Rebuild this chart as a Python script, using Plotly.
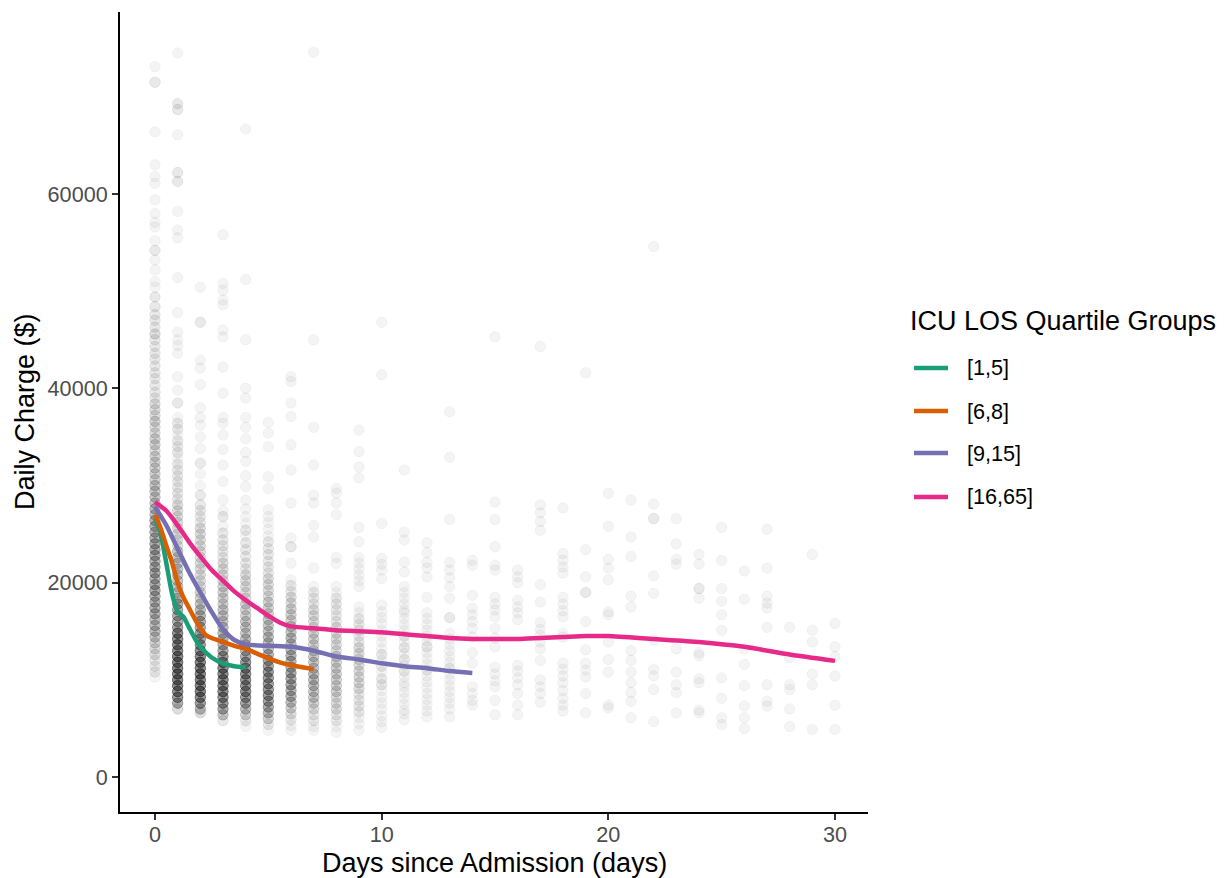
import plotly.graph_objects as go

# ---------------- data (charges in thousands of $) ----------------
# scatter: per-day observed daily charges and multiplicities (overlapping points)
d00_y = [73.1, 71.5, 66.4, 63.0, 61.8, 61.1, 59.4, 58.0, 57.1, 56.6, 55.2, 54.2, 53.2, 52.2, 51.0, 50.4, 49.4, 48.4,
         47.6, 47.0, 46.3, 45.6, 45.0, 44.3, 43.6, 43.0, 42.3, 41.6, 41.0, 40.3, 39.6, 39.0,
         38.4, 37.8, 37.2, 36.6, 36.0, 35.4, 34.8, 34.2, 33.6, 33.0, 32.4, 31.8, 31.2, 30.6, 30.0, 29.4, 28.8, 28.2,
         27.6, 27.0, 26.4, 25.8, 25.2, 24.6, 24.0, 23.4, 22.8, 22.2, 21.6, 21.0, 20.4, 19.8, 19.2, 18.6, 18.0, 17.4, 16.8, 16.2, 15.6, 15.0, 14.4,
         13.8, 13.2, 12.6, 12.0, 11.4, 10.8, 10.3]
d00_n = [1, 2, 1, 1, 1, 1, 1, 1, 1, 1, 1, 2, 1, 1, 1, 1, 2, 2,
         2, 2, 2, 3, 2, 2, 2, 2, 2, 2, 2, 2, 2, 2,
         3, 3, 3, 4, 3, 3, 4, 4, 3, 4, 4, 4, 4, 4, 5, 5, 5, 5,
         6, 6, 7, 7, 7, 7, 8, 8, 8, 7, 8, 8, 7, 8, 8, 7, 7, 7, 7, 6, 6, 6, 5,
         4, 3, 3, 2, 2, 2, 1]

d01_y = [74.5, 69.3, 68.7, 66.1, 62.2, 61.3, 58.2, 56.3, 55.5, 51.4, 47.8, 45.8, 45.0, 44.4, 43.6, 41.2, 39.8, 38.5, 37.0,
         36.4, 35.8, 35.2, 34.6, 34.0, 33.4, 32.8, 32.2, 31.6, 31.0, 30.4, 29.8, 29.2, 28.6,
         28.0, 27.4, 26.8, 26.2, 25.6, 25.0, 24.4, 23.8, 23.2, 22.6, 22.0, 21.4, 20.8, 20.2, 19.6, 19.0, 18.4,
         17.8, 17.2, 16.6, 16.0, 15.4, 14.8, 14.2, 13.6, 13.0, 12.4, 11.8, 11.2, 10.6, 10.0, 9.4, 8.8, 8.2, 7.6, 7.0]
d01_n = [1, 2, 2, 1, 2, 2, 1, 1, 1, 1, 1, 1, 1, 1, 1, 1, 1, 2, 1,
         2, 2, 1, 2, 2, 2, 1, 2, 2, 2, 2, 2, 2, 2,
         3, 3, 3, 3, 3, 3, 3, 3, 5, 5, 5, 5, 5, 5, 5, 5, 6,
         8, 8, 8, 8, 9, 12, 12, 12, 12, 13, 13, 13, 13, 13, 13, 12, 11, 8, 3]

d02_y = [50.4, 46.8, 42.9, 42.1, 40.4, 38.0, 37.0, 36.2, 35.0, 33.8, 32.3, 31.2, 30.0, 29.0,
         28.0, 27.4, 26.8, 26.2, 25.6, 25.0, 24.4, 23.8, 23.2, 22.6, 22.0, 21.4, 20.8, 20.2, 19.6, 19.0, 18.4,
         17.8, 17.2, 16.6, 16.0, 15.4, 14.8, 14.2, 13.6, 13.0, 12.4, 11.8, 11.2, 10.6, 10.0, 9.4, 8.8, 8.2, 7.6, 7.0, 6.6]
d02_n = [1, 2, 1, 1, 1, 1, 1, 1, 1, 1, 2, 1, 1, 2,
         2, 2, 2, 2, 3, 3, 3, 3, 3, 3, 3, 3, 3, 3, 3, 4, 4,
         5, 6, 7, 8, 8, 9, 9, 10, 11, 12, 13, 13, 13, 13, 13, 13, 12, 10, 6, 3]

d03_y = [55.8, 50.8, 50.1, 49.1, 48.6, 46.0, 45.3, 42.2, 39.5, 37.0,
         36.4, 35.2, 33.7, 32.1, 30.4, 28.5, 27.4, 26.8, 25.8, 25.1, 24.4, 23.8, 23.2, 22.6,
         22.0, 21.4, 20.8, 20.2, 19.6, 19.0, 18.4, 17.8, 17.2, 16.6, 16.0, 15.4, 14.8, 14.2, 13.6, 13.0,
         12.4, 11.8, 11.2, 10.6, 10.0, 9.4, 8.8, 8.2, 7.6, 7.0, 6.4, 5.8]
d03_n = [1, 1, 1, 1, 1, 1, 1, 1, 1, 1,
         1, 1, 1, 1, 1, 1, 1, 2, 1, 2, 2, 2, 2, 2,
         3, 3, 3, 3, 4, 4, 4, 4, 5, 5, 5, 6, 6, 7, 7, 8,
         10, 11, 12, 12, 12, 12, 12, 11, 10, 8, 5, 2]

d04_y = [66.7, 51.2, 45.0, 40.0, 39.0, 37.0, 36.0, 34.8, 33.4, 32.5, 31.0, 29.9, 28.5, 27.6,
         26.8, 26.1, 25.4, 24.8, 24.1, 23.4, 22.7, 22.0, 21.4, 20.8, 20.2, 19.6, 19.0, 18.4,
         17.8, 17.2, 16.6, 16.0, 15.4, 14.8, 14.2, 13.6, 13.0, 12.4, 11.8, 11.2, 10.6, 10.0, 9.4, 8.8, 8.2, 7.6, 7.0, 6.4, 5.8, 5.2]
d04_n = [1, 1, 1, 1, 1, 1, 1, 1, 1, 1, 1, 1, 1, 1,
         1, 1, 2, 1, 2, 2, 2, 2, 2, 3, 3, 3, 3, 3,
         4, 4, 4, 5, 5, 5, 6, 6, 7, 8, 10, 11, 11, 11, 11, 11, 10, 9, 6, 4, 2, 1]

d05_y = [36.5, 35.4, 34.0, 30.9, 29.7,
         27.5, 26.8, 26.2, 25.5, 24.8, 24.2, 23.5, 22.9, 22.2, 21.6, 21.0, 20.4, 19.8, 19.2, 18.6,
         18.0, 17.4, 16.8, 16.2, 15.6, 15.0, 14.4, 13.8, 13.2, 12.6, 12.0, 11.4, 10.8, 10.2, 9.6, 9.0, 8.4, 7.8, 7.2, 6.6, 6.0, 5.4, 4.8]
d05_n = [1, 1, 1, 1, 1,
         1, 1, 1, 1, 1, 2, 2, 2, 2, 2, 2, 3, 3, 3, 3,
         4, 4, 4, 5, 5, 5, 6, 6, 6, 7, 8, 9, 10, 10, 10, 10, 10, 9, 8, 6, 4, 2, 1]

d06_y = [41.2, 40.7, 38.5, 37.1, 34.2, 31.6, 28.2, 24.6, 23.7, 22.0,
         20.3, 19.7, 19.1, 18.5, 17.9, 17.3, 16.7, 16.1, 15.5, 14.9, 14.3, 13.7, 13.1,
         12.5, 11.9, 11.3, 10.7, 10.1, 9.5, 8.9, 8.3, 7.7, 7.1, 6.5, 5.9, 5.3, 4.8]
d06_n = [1, 1, 1, 1, 1, 1, 1, 1, 2, 1,
         1, 2, 2, 3, 3, 4, 4, 4, 5, 5, 6, 6, 6,
         7, 7, 7, 8, 8, 8, 7, 7, 6, 4, 3, 2, 1, 1]

d07_y = [74.6, 45.0, 36.0, 32.1, 29.0, 28.2, 25.9, 24.7, 21.5,
         19.6, 19.0, 18.4, 17.8, 17.2, 16.6, 16.0, 15.4, 14.8, 14.2, 13.6, 13.0,
         12.4, 11.8, 11.2, 10.6, 10.0, 9.4, 8.8, 8.2, 7.6, 7.0, 6.4, 5.8, 5.2, 4.8]
d07_n = [1, 1, 1, 1, 1, 1, 1, 1, 1,
         1, 2, 2, 2, 3, 3, 3, 3, 4, 4, 4, 4,
         5, 5, 5, 6, 6, 6, 5, 5, 4, 3, 2, 2, 1, 1]

d08_y = [29.7, 29.2, 28.2, 27.0, 22.6, 22.0,
         19.6, 19.0, 18.4, 17.8, 17.2, 16.6, 16.0, 15.4, 14.8, 14.2, 13.6, 13.0,
         12.4, 11.8, 11.2, 10.6, 10.0, 9.4, 8.8, 8.2, 7.6, 7.0, 6.4, 5.8, 5.2, 4.6]
d08_n = [1, 1, 1, 1, 1, 1,
         1, 1, 2, 2, 2, 2, 2, 3, 3, 3, 3, 3,
         4, 4, 4, 4, 4, 4, 4, 3, 3, 3, 2, 2, 1, 1]

d09_y = [35.7, 33.5, 31.9, 30.8, 25.7, 24.2, 22.6, 22.0, 21.4, 20.8, 20.2, 19.6,
         17.5, 16.9, 16.3, 15.7, 15.1, 14.5, 13.9, 13.3, 12.7, 12.1, 11.5, 10.9, 10.3, 9.7, 9.1, 8.5, 7.9, 7.3, 6.7, 6.1, 5.5, 4.8]
d09_n = [1, 1, 1, 1, 1, 1, 1, 1, 1, 1, 1, 1,
         1, 1, 2, 2, 2, 2, 2, 3, 3, 3, 3, 3, 3, 3, 3, 2, 2, 2, 2, 1, 1, 1]

d10_y = [46.8, 41.4, 26.1, 22.5, 21.9, 21.3, 20.4, 17.7, 17.0, 16.4, 15.8, 15.1, 14.5, 13.9, 13.2, 12.6, 12.6,
         12.0, 11.4, 11.4, 10.8, 10.1, 10.1, 9.5, 9.5, 8.9, 8.2, 7.6, 7.0, 6.3, 5.7, 5.1]
d11_y = [31.6, 25.2, 24.4, 22.1, 21.1, 19.6, 19.0, 18.4, 17.8, 17.2, 16.9, 16.3, 15.7, 15.1, 14.5, 14.5, 13.9,
         13.3, 13.3, 12.7, 12.1, 12.1, 11.5, 10.9, 10.9, 10.3, 9.7, 9.3, 8.7, 8.1, 7.5, 6.9, 6.5, 5.9]
d12_y = [24.1, 23.1, 22.1, 21.5, 20.6, 18.5, 16.9, 16.3, 15.7, 15.1, 14.5, 14.0, 13.4, 13.4, 12.8, 12.2,
         11.6, 11.0, 11.0, 10.4, 9.8, 9.2, 8.6, 8.0, 7.4, 6.8, 6.2]
d13_y = [37.6, 32.9, 26.5, 22.1, 21.3, 20.5, 19.6, 18.4, 16.4, 16.4, 14.8, 14.2, 13.6, 13.0, 12.4, 11.8,
         11.2, 11.2, 10.6, 10.0, 9.4, 8.8, 8.2, 7.6, 7.0, 6.2]
d14_y = [22.3, 21.8, 18.7, 17.4, 16.7, 16.0, 15.3, 14.4, 12.8, 11.7, 9.3, 8.6, 7.9, 7.4]
d15_y = [45.3, 28.3, 26.5, 23.7, 21.8, 21.3, 18.5, 17.8, 17.2, 16.5, 15.3, 14.3, 13.4, 11.3, 10.6, 9.9, 9.3, 7.9, 6.4]
d16_y = [21.3, 20.6, 20.0, 18.2, 17.5, 16.9, 16.2, 11.5, 10.9, 10.2, 9.5, 8.6, 7.4, 6.4]
d17_y = [44.3, 28.0, 27.2, 26.3, 25.4, 19.8, 18.0, 15.9, 15.2, 14.6, 13.9, 13.2, 12.0, 10.0, 9.3, 8.6, 7.7]
d18_y = [27.7, 23.0, 22.3, 21.6, 21.0, 18.5, 17.8, 17.1, 16.5, 14.8, 14.4, 11.7, 11.1, 10.4, 9.7, 8.9, 8.1, 7.4, 6.8]
d19_y = [41.6, 23.4, 20.6, 19.0, 19.0, 16.0, 13.1, 11.7, 11.0, 10.3, 8.6, 6.6]
d20_y = [29.2, 25.8, 22.4, 21.5, 20.3, 17.0, 16.7, 13.9, 12.1, 10.8, 7.4, 7.1]
d21_y = [28.5, 24.7, 22.7, 18.6, 17.5, 13.0, 12.0, 10.8, 9.7, 8.7, 7.8, 6.1]
d22_y = [54.6, 28.1, 26.6, 26.6, 20.7, 18.9, 14.1, 11.1, 10.4, 9.0, 5.7]
d23_y = [26.6, 24.0, 22.4, 21.9, 13.2, 10.8, 9.5, 8.7, 6.6]
d24_y = [22.9, 21.9, 19.4, 19.4, 18.4, 12.8, 12.5, 10.1, 9.7, 6.9, 6.6]
d25_y = [25.7, 22.3, 19.4, 18.1, 16.7, 15.1, 10.2, 8.1, 6.1, 5.4]
d26_y = [21.2, 18.3, 13.2, 11.6, 9.4, 7.3, 6.1, 5.0]
d27_y = [25.5, 21.5, 18.6, 17.9, 17.4, 15.4, 9.5, 7.8, 7.3]
d28_y = [15.4, 12.3, 9.5, 9.0, 7.0, 5.2]
d29_y = [22.9, 15.1, 13.9, 10.6, 9.5, 4.9]
d30_y = [15.8, 13.4, 12.4, 10.4, 7.4, 4.9]

# smoothed trends per ICU LOS quartile group
groups = ["[1,5]", "[6,8]", "[9,15]", "[16,65]"]
g1_x = [0, 0.25, 0.5, 0.75, 1, 1.25, 1.5, 1.75, 2, 2.5, 3, 3.5, 4]
g1_y = [26.6, 25.0, 22.0, 18.9, 17.0, 16.5, 15.4, 14.3, 13.4, 12.3, 11.7, 11.4, 11.3]
g2_x = [0, 0.25, 0.5, 0.75, 1, 1.25, 1.5, 1.75, 2, 2.25, 2.5, 3, 3.5, 4, 4.5, 5, 5.5, 6, 6.5, 7]
g2_y = [27.0, 25.6, 23.8, 22.1, 20.0, 18.5, 17.4, 16.3, 15.3, 14.6, 14.3, 13.9, 13.5, 13.2, 12.7, 12.2, 11.8, 11.5, 11.3, 11.1]
g3_x = [0, 0.5, 1, 1.5, 2, 2.5, 3, 3.5, 4, 5, 6, 7, 8, 9, 10, 11, 12, 13, 14]
g3_y = [27.8, 25.9, 23.5, 21.1, 19.0, 17.0, 15.2, 14.1, 13.65, 13.5, 13.4, 13.0, 12.4, 12.1, 11.7, 11.4, 11.2, 10.9, 10.7]
g4_x = [0, 0.5, 1, 1.5, 2, 2.5, 3, 3.5, 4, 4.5, 5, 5.5, 6, 7, 8, 9, 10, 11, 12, 13, 14, 15, 16, 17, 18, 19, 20, 22, 24, 26, 28, 30]
g4_y = [28.3, 27.4, 25.9, 24.2, 22.7, 21.3, 20.2, 19.1, 18.2, 17.4, 16.6, 15.9, 15.5, 15.3, 15.1, 15.0, 14.9, 14.7, 14.5, 14.3,
        14.2, 14.2, 14.2, 14.3, 14.4, 14.5, 14.5, 14.2, 13.9, 13.4, 12.6, 11.95]
group_colors = ["#1B9E77", "#D95F02", "#7570B3", "#E7298A"]

legend_title = "ICU LOS Quartile Groups"
x_ticks = [0, 10, 20, 30]
y_ticks = [0, 20000, 40000, 60000]
y_tick_text = ["0", "20000", "40000", "60000"]

# ---------------- layout geometry (pixels) ----------------
W, H = 1228, 878
L, R, T, B = 120, 360, 12, 66
PW, PH = W - L - R, H - T - B


def px_x(p):
    return (p - L) / PW


def px_y(p):
    return (H - B - p) / PH


# ---------------- assemble scatter ----------------
day_values = [d00_y, d01_y, d02_y, d03_y, d04_y, d05_y, d06_y, d07_y, d08_y, d09_y,
              d10_y, d11_y, d12_y, d13_y, d14_y, d15_y, d16_y, d17_y, d18_y, d19_y,
              d20_y, d21_y, d22_y, d23_y, d24_y, d25_y, d26_y, d27_y, d28_y, d29_y, d30_y]
day_counts = [d00_n, d01_n, d02_n, d03_n, d04_n, d05_n, d06_n, d07_n, d08_n, d09_n]

sx, sy = [], []
for day, vals in enumerate(day_values):
    counts = day_counts[day] if day < len(day_counts) else [1] * len(vals)
    for v, c in zip(vals, counts):
        sx.extend([day] * c)
        sy.extend([v * 1000] * c)

FONT = "Liberation Sans, Arial, Helvetica, sans-serif"

fig = go.Figure()
fig.add_trace(go.Scatter(
    x=sx, y=sy, mode="markers", showlegend=False, hoverinfo="skip",
    marker=dict(size=10.5, color="rgba(0,0,0,0.044)",
                line=dict(color="rgba(0,0,0,0.04)", width=1)),
))

for i, (gx, gy) in enumerate([(g1_x, g1_y), (g2_x, g2_y), (g3_x, g3_y), (g4_x, g4_y)]):
    fig.add_trace(go.Scatter(
        x=gx, y=[v * 1000 for v in gy], mode="lines", name=groups[i], showlegend=False,
        line=dict(color=group_colors[i], width=4.5, shape="spline", smoothing=0.6),
    ))

axis_common = dict(
    showgrid=False, zeroline=False, showline=True, linecolor="black", linewidth=2,
    ticks="outside", ticklen=6, tickwidth=2, tickcolor="#333333",
    tickfont=dict(family=FONT, size=21.6, color="#4D4D4D"),
)
fig.update_xaxes(range=[-1.544, 31.456], tickvals=x_ticks, ticklabelstandoff=-4, **axis_common)
fig.update_yaxes(range=[-3602, 78730], tickvals=y_ticks, ticktext=y_tick_text, **axis_common)

# ---------------- legend drawn as keys + text ----------------
legend_rows = [368, 411, 453, 497]
shapes, annotations = [], []
annotations.append(dict(text=legend_title, x=px_x(908), y=px_y(321), xref="paper", yref="paper",
                        xanchor="left", yanchor="middle", showarrow=False,
                        font=dict(family=FONT, size=27, color="black")))
for i, row in enumerate(legend_rows):
    shapes.append(dict(type="line", xref="paper", yref="paper",
                       x0=px_x(914), x1=px_x(948), y0=px_y(row), y1=px_y(row),
                       line=dict(color=group_colors[i], width=4.5)))
    annotations.append(dict(text=groups[i], x=px_x(965), y=px_y(row), xref="paper", yref="paper",
                            xanchor="left", yanchor="middle", showarrow=False,
                            font=dict(family=FONT, size=21.6, color="black")))

annotations.append(dict(text="Days since Admission (days)", x=0.5, y=0, xref="paper", yref="paper",
                        xanchor="center", yanchor="middle", yshift=-51, showarrow=False,
                        font=dict(family=FONT, size=27, color="black")))
annotations.append(dict(text="Daily Charge ($)", x=0, y=0.5, xref="paper", yref="paper", textangle=-90,
                        xanchor="center", yanchor="middle", xshift=-95, showarrow=False,
                        font=dict(family=FONT, size=27, color="black")))

fig.update_layout(
    width=W, height=H,
    margin=dict(l=L, r=R, t=T, b=B, autoexpand=False),
    paper_bgcolor="white", plot_bgcolor="white",
    font=dict(family=FONT, color="black"),
    showlegend=False,
    shapes=shapes,
    annotations=annotations,
)

fig.write_html("out.html")
